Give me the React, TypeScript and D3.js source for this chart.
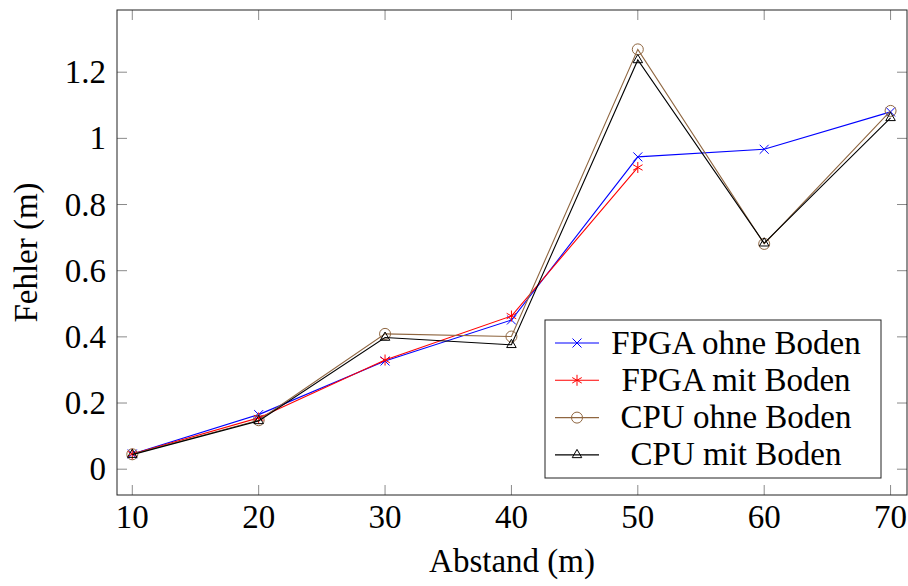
import React from 'react';
import * as d3 from 'd3';

// distances (m)
const distances = [10, 20, 30, 40, 50, 60, 70];

const fpgaOhneBoden = [0.046, 0.165, 0.327, 0.451, 0.944, 0.967, 1.08];
const fpgaMitBoden = [0.046, 0.155, 0.33, 0.463, 0.912];
const cpuOhneBoden = [0.045, 0.148, 0.409, 0.401, 1.269, 0.681, 1.083];
const cpuMitBoden = [0.044, 0.146, 0.398, 0.376, 1.237, 0.683, 1.062];

const xTicks = [10, 20, 30, 40, 50, 60, 70];
const yTicks = [0, 0.2, 0.4, 0.6, 0.8, 1, 1.2];

const seriesNames = ['FPGA ohne Boden', 'FPGA mit Boden', 'CPU ohne Boden', 'CPU mit Boden'];
const seriesColors = ['#0000ff', '#ff0000', '#8f6640', '#000000'];
const seriesMarks = ['x', 'asterisk', 'circle', 'triangle'];
const seriesValues = [fpgaOhneBoden, fpgaMitBoden, cpuOhneBoden, cpuMitBoden];

const W = 908;
const H = 586;
const margin = { top: 10, right: 1, bottom: 91, left: 117 };
const FONT = 'Liberation Serif, DejaVu Serif, serif';
const FS = 33;

const Marker = ({ kind, cx, cy, color }: { kind: string; cx: number; cy: number; color: string }) => {
  const s = 4.5;
  if (kind === 'x') {
    return (
      <g stroke={color} strokeWidth={1}>
        <line x1={cx - s} y1={cy - s} x2={cx + s} y2={cy + s} />
        <line x1={cx - s} y1={cy + s} x2={cx + s} y2={cy - s} />
      </g>
    );
  }
  if (kind === 'asterisk') {
    const r = 5.5;
    return (
      <g stroke={color} strokeWidth={1}>
        {[90, 30, -30].map((a) => {
          const t = (a * Math.PI) / 180;
          return <line key={a} x1={cx - r * Math.cos(t)} y1={cy - r * Math.sin(t)} x2={cx + r * Math.cos(t)} y2={cy + r * Math.sin(t)} />;
        })}
      </g>
    );
  }
  if (kind === 'circle') {
    return <circle cx={cx} cy={cy} r={5.5} fill="none" stroke={color} strokeWidth={1} />;
  }
  const r = 5.5;
  const pts = [90, 210, 330].map((a) => {
    const t = (a * Math.PI) / 180;
    return `${cx + r * Math.cos(t)},${cy - r * Math.sin(t)}`;
  });
  return <polygon points={pts.join(' ')} fill="none" stroke={color} strokeWidth={1} />;
};

export default function App() {
  const iw = W - margin.left - margin.right;
  const ih = H - margin.top - margin.bottom;
  const x = d3.scaleLinear().domain([8.79, 71.3]).range([0, iw]);
  const y = d3.scaleLinear().domain([-0.078, 1.388]).range([ih, 0]);

  const line = d3
    .line<number>()
    .x((_, i) => x(distances[i]))
    .y((d) => y(d));

  const tickLen = 10;
  const tickColor = '#8a8a8a';

  // legend
  const lg = { x: 428, y: 310, w: 336, h: 158, row: 37.3 };

  return (
    <svg width={W} height={H} style={{ position: 'absolute', left: 0, top: 0, background: '#fff', fontFamily: FONT }}>
      <g transform={`translate(${margin.left},${margin.top})`} fill="#000">
        {/* ticks on all four sides */}
        {xTicks.map((t) => (
          <g key={'x' + t}>
            <line x1={x(t)} x2={x(t)} y1={ih} y2={ih - tickLen} stroke={tickColor} />
            <line x1={x(t)} x2={x(t)} y1={0} y2={tickLen} stroke={tickColor} />
            <text x={x(t)} y={ih + 33} textAnchor="middle" fontSize={FS}>
              {t}
            </text>
          </g>
        ))}
        {yTicks.map((t) => (
          <g key={'y' + t}>
            <line x1={0} x2={tickLen} y1={y(t)} y2={y(t)} stroke={tickColor} />
            <line x1={iw} x2={iw - tickLen} y1={y(t)} y2={y(t)} stroke={tickColor} />
            <text x={-11} y={y(t) + 11} textAnchor="end" fontSize={FS}>
              {d3.format('~g')(t)}
            </text>
          </g>
        ))}

        {/* series */}
        {seriesValues.map((vals, si) => (
          <g key={seriesNames[si]}>
            <path d={line(vals) || ''} fill="none" stroke={seriesColors[si]} strokeWidth={1.1} />
            {vals.map((v, i) => (
              <Marker key={i} kind={seriesMarks[si]} cx={x(distances[i])} cy={y(v)} color={seriesColors[si]} />
            ))}
          </g>
        ))}

        {/* frame */}
        <rect x={0} y={0} width={iw} height={ih} fill="none" stroke="#222" strokeWidth={1} />

        {/* legend */}
        <g transform={`translate(${lg.x},${lg.y})`}>
          <rect x={0} y={0} width={lg.w} height={lg.h} fill="#fff" stroke="#222" strokeWidth={1} />
          {seriesNames.map((name, i) => {
            const cy = 23 + i * lg.row;
            return (
              <g key={name}>
                <line x1={10} x2={54} y1={cy} y2={cy} stroke={seriesColors[i]} strokeWidth={1.1} />
                <Marker kind={seriesMarks[i]} cx={32} cy={cy} color={seriesColors[i]} />
                <text x={191} y={cy + 10.5} textAnchor="middle" fontSize={FS}>
                  {name}
                </text>
              </g>
            );
          })}
        </g>

        {/* axis labels */}
        <text x={iw / 2} y={ih + 77} textAnchor="middle" fontSize={FS}>
          Abstand (m)
        </text>
        <text transform={`translate(${-80},${ih / 2}) rotate(-90)`} textAnchor="middle" fontSize={FS}>
          Fehler (m)
        </text>
      </g>
    </svg>
  );
}
